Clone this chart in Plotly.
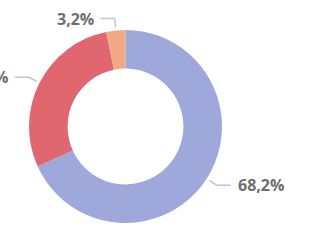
import math
import plotly.graph_objects as go

# Data
labels = ["A", "B", "C"]
values = [68.2, 28.6, 3.2]
colors = ["#9fa8da", "#e06670", "#f2a882"]

W, H = 336, 240
cx, cy, R = 125.5, 126.5, 96.5  # donut centre/radius in pixels

fig = go.Figure(go.Pie(
    labels=labels, values=values, hole=0.6, sort=False,
    direction="clockwise", rotation=0,
    marker=dict(colors=colors, line=dict(width=0)),
    textinfo="none", hoverinfo="label+percent", showlegend=False,
    domain=dict(x=[(cx - R) / W, (cx + R) / W], y=[(H - cy - R) / H, (H - cy + R) / H]),
))

def px(x):
    return x / W

def py(y):
    return 1 - y / H

total = sum(values)
cum = 0.0
shapes, annots = [], []
for v in values:
    mid = (cum + v / 2) / total * 2 * math.pi
    cum += v
    sx, sy = cx + (R + 3) * math.sin(mid), cy - (R + 3) * math.cos(mid)
    ex, ey = cx + (R + 12) * math.sin(mid), cy - (R + 12) * math.cos(mid)
    side = 1 if math.sin(mid) >= 0 else -1
    hx = ex + side * 14
    shapes.append(dict(
        type="path", xref="paper", yref="paper",
        path=f"M {px(sx)} {py(sy)} L {px(ex)} {py(ey)} L {px(hx)} {py(ey)}",
        line=dict(color="#c4c4c4", width=1.5),
    ))
    annots.append(dict(
        xref="paper", yref="paper", x=px(hx + side * 5), y=py(ey),
        xanchor="left" if side > 0 else "right", yanchor="middle",
        text=f"{v:.1f}%".replace(".", ","), showarrow=False,
        font=dict(family="Open Sans", size=16, color="#6e6e6e", weight="bold"),
    ))

fig.update_layout(
    width=W, height=H, margin=dict(l=0, r=0, t=0, b=0),
    paper_bgcolor="white", plot_bgcolor="white",
    shapes=shapes, annotations=annots,
)
fig.write_html("out.html")
